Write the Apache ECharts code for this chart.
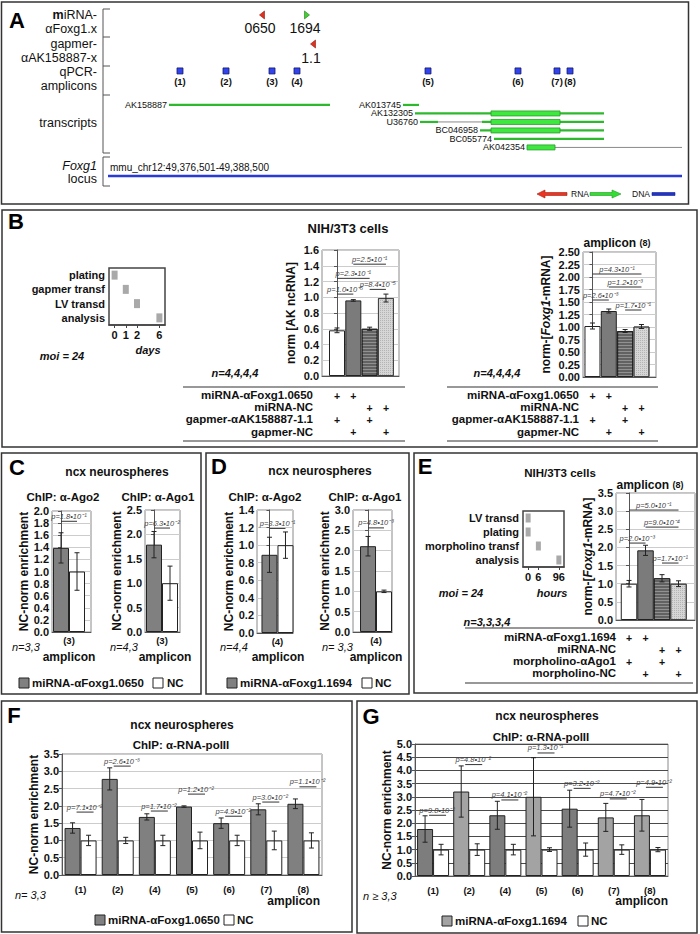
<!DOCTYPE html>
<html>
<head>
<meta charset="utf-8">
<title>Foxg1 figure</title>
<script src="https://cdn.jsdelivr.net/npm/echarts@6.0.0/dist/echarts.min.js"></script>
<style>
html,body{margin:0;padding:0;background:#ffffff;}
#chart{width:700px;height:934px;}
</style>
</head>
<body>
<div id="chart"></div>
<script>
// ======================= DATA =======================
// Panel A: genomic map (positions in bp from locus start)
const locusLabel = 'mmu_chr12:49,376,501-49,388,500';
const locusLength = 12000;
const mirnaNames = ['0650', '1694'];
const mirnaPos = [3219, 4160];
const mirnaStrand = [-1, 1];
const gapmerNames = ['1.1'];
const gapmerPos = [4286];
const gapmerStrand = [-1];
const ampliconNames = ['(1)', '(2)', '(3)', '(4)', '(5)', '(6)', '(7)', '(8)'];
const ampliconPos = [1505, 2467, 3429, 3951, 6690, 8571, 9387, 9659];
const txNames = ['AK158887', 'AK013745', 'AK132305', 'U36760', 'BC046958', 'BC055774', 'AK042354'];
const txRow = [0, 0, 1, 2, 3, 4, 5];
const txStart = [1275, 6167, 6418, 6523, 7777, 8070, 8760];
const txEnd = [4641, 6502, 10369, 10369, 10369, 10369, 12000];
const txExonStart = [null, null, 8007, 8007, 8007, null, 8760];
const txExonEnd = [null, null, 9450, 9450, 9450, null, 9345];
const txIntronStart = [null, null, null, 6899, null, null, 9345];
const txIntronEnd = [null, null, null, 7819, null, null, 12000];

// Panel B
const bTimelineSteps = ['plating', 'gapmer transf', 'LV transd', 'analysis'];
const bTimelineDay = ['0', '1', '2', '6'];
const bDayTicks = ['0', '1', '2', '', '6'];
const bRowLabels = ['miRNA-\u03b1Foxg1.0650', 'miRNA-NC', 'gapmer-\u03b1AK158887-1.1', 'gapmer-NC'];
const bPlus = [[1, 1, 0, 0], [0, 0, 1, 1], [1, 0, 1, 0], [0, 1, 0, 1]];
const bAkValues = [0.58, 0.96, 0.60, 0.99];
const bAkErr = [0.03, 0.01, 0.02, 0.05];
const bAkP = ['p=1.0\u202210\u207b\u2075', 'p=2.3\u202210\u207b\u00b9', 'p=2.5\u202210\u207b\u00b9', 'p=8.4\u202210\u207b\u2075'];
const bAkPFrom = [0, 0, 1, 2];
const bAkPTo = [1, 2, 3, 3];
const bAkPAt = [1.04, 1.24, 1.42, 1.10];
const bFoxValues = [1.02, 1.32, 0.92, 1.01];
const bFoxErr = [0.06, 0.04, 0.03, 0.04];
const bFoxP = ['p=4.3\u202210\u207b\u00b9', 'p=1.2\u202210\u207b\u00b3', 'p=2.6\u202210\u207b\u00b3', 'p=1.7\u202210\u207b\u00b9'];
const bFoxPFrom = [0, 1, 0, 2];
const bFoxPTo = [3, 3, 1, 3];
const bFoxPAt = [2.06, 1.80, 1.54, 1.34];

// Panel C
const cAmplicon = ['(3)'];
const cN = ['n=3,3', 'n=4,3'];
const cAgo2Values = [1.39, 1.00];
const cAgo2Err = [0.25, 0.31];
const cAgo2P = ['p=1.8\u202210\u207b\u00b9'];
const cAgo2PAt = [1.83];
const cAgo1Values = [1.79, 1.00];
const cAgo1Err = [0.27, 0.35];
const cAgo1P = ['p=6.3\u202210\u207b\u00b2'];
const cAgo1PAt = [2.13];

// Panel D
const dAmplicon = ['(4)'];
const dN = ['n=4,4', 'n= 3,3'];
const dAgo2Values = [0.89, 1.00];
const dAgo2Err = [0.20, 0.15];
const dAgo2P = ['p=3.3\u202210\u207b\u00b9'];
const dAgo2PAt = [1.19];
const dAgo1Values = [2.11, 1.00];
const dAgo1Err = [0.24, 0.03];
const dAgo1P = ['p=4.8\u202210\u207b\u00b3'];
const dAgo1PAt = [2.56];

// Panel E
const eTimelineSteps = ['LV transd', 'plating', 'morpholino transf', 'analysis'];
const eTimelineHour = ['0', '0', '6', '96'];
const eHourTicks = ['0', '6', '', '96'];
const eRowLabels = ['miRNA-\u03b1Foxg1.1694', 'miRNA-NC', 'morpholino-\u03b1Ago1', 'morpholino-NC'];
const ePlus = [[1, 1, 0, 0], [0, 0, 1, 1], [1, 0, 1, 0], [0, 1, 0, 1]];
const eValues = [1.00, 1.92, 1.15, 1.00];
const eErr = [0.09, 0.14, 0.10, 0.08];
const eP = ['p=5.0\u202210\u207b\u00b9', 'p=9.0\u202210\u207b\u2074', 'p=2.0\u202210\u207b\u00b3', 'p=1.7\u202210\u207b\u00b9'];
const ePFrom = [0, 1, 0, 2];
const ePTo = [3, 3, 1, 3];
const ePAt = [3.03, 2.56, 2.12, 1.57];

// Panel F
const fAmplicons = ['(1)', '(2)', '(4)', '(5)', '(6)', '(7)', '(8)'];
const fMirValues = [1.36, 2.78, 1.68, 1.98, 1.50, 1.90, 2.06];
const fMirErr = [0.15, 0.32, 0.09, 0.02, 0.15, 0.16, 0.14];
const fNcValues = [1.00, 1.00, 1.00, 1.00, 1.00, 1.00, 1.00];
const fNcErr = [0.15, 0.09, 0.15, 0.24, 0.15, 0.27, 0.22];
const fP = ['p=7.1\u202210\u207b\u00b2', 'p=2.6\u202210\u207b\u00b3', 'p=1.7\u202210\u207b\u00b2', 'p=1.2\u202210\u207b\u00b2', 'p=4.9\u202210\u207b\u00b2', 'p=3.0\u202210\u207b\u00b2', 'p=1.1\u202210\u207b\u00b2'];
const fPAt = [1.82, 3.15, 1.85, 2.34, 1.70, 2.11, 2.55];

// Panel G
const gAmplicons = ['(1)', '(2)', '(4)', '(5)', '(6)', '(7)', '(8)'];
const gMirValues = [1.78, 3.20, 2.30, 3.00, 2.55, 2.22, 2.30];
const gMirErr = [0.50, 0.97, 0.53, 1.48, 0.70, 0.53, 0.60];
const gNcValues = [1.00, 1.00, 1.00, 1.00, 1.00, 1.00, 1.00];
const gNcErr = [0.20, 0.22, 0.20, 0.07, 0.25, 0.18, 0.08];
const gP = ['p=9.8\u202210\u207b\u00b2', 'p=4.8\u202210\u207b\u00b2', 'p=4.1\u202210\u207b\u00b2', 'p=1.3\u202210\u207b\u00b9', 'p=3.2\u202210\u207b\u00b2', 'p=4.7\u202210\u207b\u00b2', 'p=4.9\u202210\u207b\u00b2'];
const gPAt = [2.30, 4.22, 2.88, 4.66, 3.32, 2.92, 3.36];

// ======================= STYLE =======================
const FF = '"Liberation Sans", Arial, Helvetica, sans-serif';
const fB = s => 'bold ' + s + 'px ' + FF;
const fR = s => s + 'px ' + FF;
const fI = s => 'italic ' + s + 'px ' + FF;
const fBI = s => 'italic bold ' + s + 'px ' + FF;
const P_FONT = fI(7.5);
const TRACK = {mirna: -10.59, gapmer: -7.17, amplicon: -4.0, locus: 8.36};
const condStyles = [
  {color: '#ffffff', borderColor: '#222', borderWidth: 1},
  {color: '#7b7b7b', borderColor: '#222', borderWidth: 1},
  {color: '#626262', borderColor: '#222', borderWidth: 1,
   decal: {symbol: 'rect', symbolSize: 1, dashArrayX: [10, 0], dashArrayY: [1, 2], rotation: 0, color: 'rgba(255,255,255,0.30)'}},
  {color: '#d6d6d6', borderColor: '#444', borderWidth: 1,
   decal: {symbol: 'rect', symbolSize: 1, dashArrayX: [1, 1], dashArrayY: [1, 1], rotation: 0, color: 'rgba(140,140,140,0.45)'}}
];
const pairStyles = [
  {color: '#808080', borderColor: '#222', borderWidth: 1},
  {color: '#ffffff', borderColor: '#222', borderWidth: 1}
];
const gShades = ['#7d7d7d', '#a3a3a3', '#7d7d7d', '#a3a3a3', '#7d7d7d', '#a3a3a3', '#a3a3a3'];

// ======================= HELPERS =======================
function tx(x, y, text, font, align, va, fill, rich) {
  const st = {text: text, x: x, y: y, font: font, fill: fill || '#111',
    textAlign: align || 'center', align: align || 'center',
    textVerticalAlign: va || 'middle', verticalAlign: va || 'middle'};
  if (rich) st.rich = rich;
  return {type: 'text', style: st};
}
function ln(x1, y1, x2, y2, stroke, lw) {
  return {type: 'line', shape: {x1: x1, y1: y1, x2: x2, y2: y2}, style: {stroke: stroke || '#222', lineWidth: lw || 1}};
}
function rc(x, y, w, h, fill, stroke, lw) {
  return {type: 'rect', shape: {x: x, y: y, width: w, height: h}, style: {fill: fill || 'none', stroke: stroke || 'none', lineWidth: lw || 1}};
}

const grids = [], xAxes = [], yAxes = [], series = [], G = [];
function g(el) { el.silent = true; G.push(el); }

function valueY(gi, max, step, dec, name, nameGap, splitColor, rich) {
  return {type: 'value', gridIndex: gi, min: 0, max: max, interval: step,
    axisLine: {show: true, lineStyle: {color: '#555'}},
    axisTick: {show: true, length: 3, lineStyle: {color: '#555'}},
    axisLabel: {formatter: v => v.toFixed(dec), fontFamily: FF, fontWeight: 'bold', fontSize: 11, color: '#111', margin: 3},
    splitLine: {show: true, lineStyle: {color: splitColor || '#cccccc', width: 1}},
    name: name, nameLocation: 'middle', nameGap: nameGap, nameRotate: 90,
    nameTextStyle: {fontFamily: FF, fontWeight: 'bold', fontSize: 12, color: '#111', rich: rich}};
}
function addBarGrid(c) {
  const i = grids.length;
  grids.push({left: c.left, top: c.top, width: c.width, height: c.height, show: true,
    borderColor: '#8a8a8a', borderWidth: 1, backgroundColor: '#ffffff'});
  if (c.cats) {
    xAxes.push({type: 'category', gridIndex: i, data: c.cats,
      axisLine: {show: true, lineStyle: {color: '#555'}}, axisTick: {show: false},
      axisLabel: {interval: 0, fontFamily: FF, fontWeight: 'bold', fontSize: 9.5, color: '#111', margin: 9},
      splitLine: {show: false}});
  } else {
    xAxes.push({type: 'value', gridIndex: i, min: c.xmin, max: c.xmax,
      axisLine: {show: true, onZero: false, lineStyle: {color: '#555'}}, axisTick: {show: false},
      axisLabel: {show: false}, splitLine: {show: false}});
  }
  yAxes.push(valueY(i, c.ymax, c.ystep, c.dec, c.name, c.nameGap, c.splitColor, c.rich));
  return i;
}
function barsByIndex(ai, vals, styles, barW) {
  series.push({type: 'bar', xAxisIndex: ai, yAxisIndex: ai, barWidth: barW, silent: true, z: 2,
    data: vals.map((v, i) => ({value: [i, v], itemStyle: styles[i]}))});
}
function errSeries(ai, xs, vals, errs, dx) {
  series.push({type: 'custom', xAxisIndex: ai, yAxisIndex: ai, silent: true, clip: false, z: 5,
    data: vals.map((v, i) => [xs[i], v, errs[i]]),
    renderItem: function (params, api) {
      const x = api.value(0), v = api.value(1), e = api.value(2);
      const t = api.coord([x, v + e]), b = api.coord([x, v - e]);
      const cx = t[0] + (dx || 0), w = 2.5;
      return {type: 'group', children: [
        ln(cx, t[1], cx, b[1], '#222', 1), ln(cx - w, t[1], cx + w, t[1], '#222', 1), ln(cx - w, b[1], cx + w, b[1], '#222', 1)]};
    }});
}
function pSeries(ai, from, to, at, texts) {
  series.push({type: 'custom', xAxisIndex: ai, yAxisIndex: ai, silent: true, clip: false, z: 6,
    data: at.map((y, i) => [from[i], y, to[i]]),
    renderItem: function (params, api) {
      const y = api.value(1);
      const a = api.coord([api.value(0), y]), b = api.coord([api.value(2), y]);
      return {type: 'group', children: [
        ln(a[0], a[1], b[0], b[1], '#333', 1),
        tx((a[0] + b[0]) / 2, a[1] - 1, texts[params.dataIndex], P_FONT, 'center', 'bottom', '#444')]};
    }});
}
function pSeriesCat(ai, cats, at, texts) {
  series.push({type: 'custom', xAxisIndex: ai, yAxisIndex: ai, silent: true, clip: false, z: 6,
    data: at.map((y, i) => [cats[i], y]),
    renderItem: function (params, api) {
      const c = api.coord([api.value(0), api.value(1)]);
      return {type: 'group', children: [
        ln(c[0] - 4, c[1], c[0] + 13, c[1], '#333', 1),
        tx(c[0] + 4, c[1] - 1, texts[params.dataIndex], P_FONT, 'center', 'bottom', '#444')]};
    }});
}
function xLabelSeries(ai, pos, label) {
  series.push({type: 'custom', xAxisIndex: ai, yAxisIndex: ai, silent: true, clip: false, z: 6,
    data: [[pos, 0]],
    renderItem: function (params, api) {
      const c = api.coord([api.value(0), 0]);
      return tx(c[0], c[1] + 8, label, fB(9.5), 'center', 'middle');
    }});
}
function tableSeries(ai, xMin, labels, plus, labelGap, top, rowH) {
  series.push({type: 'custom', xAxisIndex: ai, yAxisIndex: ai, silent: true, clip: false, z: 8,
    data: labels.map(() => [0, 0]),
    renderItem: function (params, api) {
      const r = params.dataIndex;
      const base = api.coord([xMin, 0]);
      const y = base[1] + top + r * rowH;
      const ch = [tx(base[0] - labelGap, y, labels[r], fB(11.5), 'right', 'middle')];
      plus[r].forEach(function (p, c) {
        if (p) { const cx = api.coord([c, 0])[0]; ch.push(tx(cx, y + 0.5, '+', fB(10.5), 'center', 'middle')); }
      });
      return {type: 'group', children: ch};
    }});
}
function timeline(c) {
  const i = grids.length;
  grids.push({left: c.left, top: c.top, width: c.width, height: c.height, show: true,
    borderColor: '#444', borderWidth: 1.5, backgroundColor: '#fff'});
  xAxes.push({type: 'category', gridIndex: i, data: c.ticks, boundaryGap: true,
    axisLine: {show: true, lineStyle: {color: '#444', width: 1.5}},
    axisTick: {show: true, alignWithLabel: true, interval: function (idx, v) { return v !== ''; }, length: 3, lineStyle: {color: '#444'}},
    axisLabel: {interval: 0, fontFamily: FF, fontWeight: 'bold', fontSize: 11, color: '#111', margin: 4},
    splitLine: {show: false}});
  yAxes.push({type: 'category', gridIndex: i, data: c.steps, inverse: true,
    axisLine: {show: false}, axisTick: {show: false},
    axisLabel: {interval: 0, fontFamily: FF, fontWeight: 'bold', fontSize: 11, color: '#111', margin: 4},
    splitLine: {show: false}});
  series.push({type: 'custom', xAxisIndex: i, yAxisIndex: i, silent: true, clip: false, z: 5,
    data: c.when.map((w, k) => [w, c.steps[k]]),
    renderItem: function (params, api) {
      const p = api.coord([api.value(0), api.value(1)]);
      return rc(p[0] - c.rw / 2, p[1] - 4.5, c.rw, 9, '#a9a9a9', 'none');
    }});
}

// ======================= PANEL A =======================
grids.push({left: 108, top: 5, width: 574, height: 180});
xAxes.push({type: 'value', gridIndex: 0, min: 0, max: locusLength, show: false});
yAxes.push({type: 'value', gridIndex: 0, min: -11.76, max: 9.42, inverse: true, show: false});
function triangle(x, y, dir) {
  const pts = dir < 0 ? [[x - 2.5, y], [x + 2.5, y - 4], [x + 2.5, y + 4]] : [[x + 2.5, y], [x - 2.5, y - 4], [x - 2.5, y + 4]];
  return {type: 'polygon', shape: {points: pts}, style: dir < 0 ? {fill: '#e0301e', stroke: '#8a1a10', lineWidth: 0.6} : {fill: '#44cc33', stroke: '#227a1a', lineWidth: 0.6}};
}
series.push({type: 'custom', xAxisIndex: 0, yAxisIndex: 0, silent: true, clip: false,
  data: [[0, TRACK.locus, locusLength]],
  renderItem: function (params, api) {
    const a = api.coord([0, TRACK.locus]), b = api.coord([api.value(2), TRACK.locus]);
    return {type: 'group', children: [rc(a[0], a[1] - 1.3, b[0] - a[0], 2.6, '#2a3ad8', 'none'),
      tx(a[0] + 2, a[1] - 8, locusLabel, fR(10), 'left', 'middle')]};
  }});
function markerSeries(pos, names, strands, track) {
  series.push({type: 'custom', xAxisIndex: 0, yAxisIndex: 0, silent: true, clip: false,
    data: pos.map(p => [p, track]),
    renderItem: function (params, api) {
      const c = api.coord([api.value(0), api.value(1)]);
      const i = params.dataIndex;
      return {type: 'group', children: [triangle(c[0], c[1], strands[i]), tx(c[0] - 2, c[1] + 13.5, names[i], fR(14), 'center', 'middle')]};
    }});
}
markerSeries(mirnaPos, mirnaNames, mirnaStrand, TRACK.mirna);
markerSeries(gapmerPos, gapmerNames, gapmerStrand, TRACK.gapmer);
series.push({type: 'custom', xAxisIndex: 0, yAxisIndex: 0, silent: true, clip: false,
  data: ampliconPos.map(p => [p, TRACK.amplicon]),
  renderItem: function (params, api) {
    const c = api.coord([api.value(0), api.value(1)]);
    return {type: 'group', children: [rc(c[0] - 3, c[1] - 3, 6, 6, '#3344ee', '#111a66', 0.8),
      tx(c[0], c[1] + 11, ampliconNames[params.dataIndex], fB(9.5), 'center', 'middle')]};
  }});
series.push({type: 'custom', xAxisIndex: 0, yAxisIndex: 0, silent: true, clip: false,
  data: txStart.map((s, i) => [s, txRow[i]]),
  renderItem: function (params, api) {
    const i = params.dataIndex, row = txRow[i];
    const X = v => api.coord([v, row])[0];
    const y = api.coord([txStart[i], row])[1];
    const s = txStart[i], e = txEnd[i];
    const segs = [];
    if (txIntronStart[i] != null) {
      segs.push([s, txIntronStart[i]]);
      if (txIntronEnd[i] < e) segs.push([txIntronEnd[i], e]);
    } else segs.push([s, e]);
    const ch = [];
    segs.forEach(function (sg) { if (sg[1] > sg[0]) ch.push(rc(X(sg[0]), y - 1.1, X(sg[1]) - X(sg[0]), 2.2, '#2db82d', 'none')); });
    if (txIntronStart[i] != null) ch.push(ln(X(txIntronStart[i]), y, X(txIntronEnd[i]), y, '#8a8a8a', 1));
    if (txExonStart[i] != null) ch.push(rc(X(txExonStart[i]), y - 2.5, X(txExonEnd[i]) - X(txExonStart[i]), 5, '#3ee83e', '#2a9a2a', 0.8));
    ch.push(tx(X(s) - 2, y, txNames[i], fR(9), 'right', 'middle'));
    return {type: 'group', children: ch};
  }});

// ======================= PANEL B =======================
timeline({left: 109, top: 268, width: 56, height: 57, ticks: bDayTicks, steps: bTimelineSteps, when: bTimelineDay, rw: 6});
const gB1 = addBarGrid({left: 322, top: 250, width: 77, height: 126, xmin: -0.92, xmax: 3.80, ymax: 1.6, ystep: 0.2, dec: 1,
  name: 'norm [AK ncRNA]', nameGap: 25});
barsByIndex(gB1, bAkValues, condStyles, 16);
errSeries(gB1, [0, 1, 2, 3], bAkValues, bAkErr, 0);
pSeries(gB1, bAkPFrom, bAkPTo, bAkPAt, bAkP);
tableSeries(gB1, -0.92, bRowLabels, bPlus, 9, 19, 12.2);

const richFox = {
  a: {fontFamily: FF, fontWeight: 'bold', fontStyle: 'normal', fontSize: 12, color: '#111'},
  i: {fontFamily: FF, fontWeight: 'bold', fontStyle: 'italic', fontSize: 12, color: '#111'}
};
const gB2 = addBarGrid({left: 583, top: 252, width: 73, height: 125, xmin: -0.58, xmax: 3.89, ymax: 2.5, ystep: 0.25, dec: 2,
  name: '{a|norm-[}{i|Foxg1}{a|-mRNA]}', nameGap: 31, rich: richFox});
barsByIndex(gB2, bFoxValues, condStyles, 16);
errSeries(gB2, [0, 1, 2, 3], bFoxValues, bFoxErr, 0);
pSeries(gB2, bFoxPFrom, bFoxPTo, bFoxPAt, bFoxP);
tableSeries(gB2, -0.58, bRowLabels, bPlus, 4, 18, 12.2);

// ======================= PANEL C / D =======================
function pairChart(c, vals, errs, ptxt, pat, amp) {
  const i = addBarGrid(c);
  barsByIndex(i, vals, pairStyles, 16);
  errSeries(i, [0, 1], vals, errs, 0);
  pSeries(i, [0], [1], pat, ptxt);
  xLabelSeries(i, 0.5, amp);
  return i;
}
pairChart({left: 52, top: 511, width: 39, height: 121, xmin: -0.5625, xmax: 1.875, ymax: 2.0, ystep: 0.2, dec: 1, name: 'NC-norm enrichment', nameGap: 22},
  cAgo2Values, cAgo2Err, cAgo2P, cAgo2PAt, cAmplicon[0]);
pairChart({left: 145, top: 510, width: 35, height: 122, xmin: -0.5625, xmax: 1.625, ymax: 2.5, ystep: 0.5, dec: 1, name: 'NC-norm enrichment', nameGap: 22},
  cAgo1Values, cAgo1Err, cAgo1P, cAgo1PAt, cAmplicon[0]);
pairChart({left: 257, top: 510, width: 36, height: 123, xmin: -0.78, xmax: 1.47, ymax: 1.4, ystep: 0.2, dec: 1, name: 'NC-norm enrichment', nameGap: 22},
  dAgo2Values, dAgo2Err, dAgo2P, dAgo2PAt, dAmplicon[0]);
pairChart({left: 353, top: 510, width: 39, height: 122, xmin: -0.94, xmax: 1.50, ymax: 3.0, ystep: 0.5, dec: 1, name: 'NC-norm enrichment', nameGap: 22},
  dAgo1Values, dAgo1Err, dAgo1P, dAgo1PAt, dAmplicon[0]);

// ======================= PANEL E =======================
timeline({left: 523, top: 511, width: 41, height: 56, ticks: eHourTicks, steps: eTimelineSteps, when: eTimelineHour, rw: 5});
const gE = addBarGrid({left: 616, top: 493, width: 79, height: 127, xmin: -0.79, xmax: 4.0, ymax: 3.5, ystep: 0.5, dec: 1,
  name: '{a|norm-[}{i|Foxg1}{a|-mRNA]}', nameGap: 22, rich: richFox});
barsByIndex(gE, eValues, condStyles, 16.5);
errSeries(gE, [0, 1, 2, 3], eValues, eErr, 0);
pSeries(gE, ePFrom, ePTo, ePAt, eP);
tableSeries(gE, -0.79, eRowLabels, ePlus, 0, 17, 12);

// ======================= PANEL F / G =======================
function groupChart(c, cats, mir, mirErr, nc, ncErr, ptxt, pat, shades) {
  const i = addBarGrid(c);
  series.push({type: 'bar', xAxisIndex: i, yAxisIndex: i, barWidth: 16, barGap: '0%', silent: true, z: 2,
    data: mir.map((v, k) => ({value: v, itemStyle: {color: shades ? shades[k] : pairStyles[0].color, borderColor: '#222', borderWidth: 1}}))});
  series.push({type: 'bar', xAxisIndex: i, yAxisIndex: i, barWidth: 16, barGap: '0%', silent: true, z: 2,
    data: nc, itemStyle: pairStyles[1]});
  errSeries(i, cats, mir, mirErr, -8);
  errSeries(i, cats, nc, ncErr, 8);
  pSeriesCat(i, cats, pat, ptxt);
  return i;
}
groupChart({left: 62, top: 754, width: 260, height: 121, cats: fAmplicons, ymax: 3.5, ystep: 0.5, dec: 1, name: 'NC-norm enrichment', nameGap: 22},
  fAmplicons, fMirValues, fMirErr, fNcValues, fNcErr, fP, fPAt, null);
groupChart({left: 415, top: 744, width: 253, height: 132, cats: gAmplicons, ymax: 5.0, ystep: 0.5, dec: 1, name: 'NC-norm enrichment', nameGap: 22, splitColor: '#4a4a4a'},
  gAmplicons, gMirValues, gMirErr, gNcValues, gNcErr, gP, gPAt, gShades);

// ======================= STATIC TEXT / FRAMES =======================
[[1.5, 2, 687, 202], [2, 210, 695, 237], [1.5, 453, 199.5, 241], [206, 453, 203, 241], [414, 453, 283, 240], [1.5, 701, 350.5, 231], [357, 701, 340, 232]]
  .forEach(r => g(rc(r[0], r[1], r[2], r[3], 'none', '#333', 1.5)));
[['A', 17, 20], ['B', 16, 221], ['C', 17, 467], ['D', 219, 466], ['E', 425, 466], ['F', 14, 715], ['G', 371, 716]]
  .forEach(l => g(tx(l[1], l[2], l[0], fB(22), 'center', 'middle', '#000')));

// Panel A labels
const richA = {
  b: {fontFamily: FF, fontWeight: 'bold', fontStyle: 'normal', fontSize: 12.5, color: '#111'},
  n: {fontFamily: FF, fontWeight: 'normal', fontStyle: 'normal', fontSize: 12.5, color: '#111'},
  i: {fontFamily: FF, fontWeight: 'normal', fontStyle: 'italic', fontSize: 12.5, color: '#111'}
};
g(tx(97, 14.5, '{b|m}{n|iRNA-}', fR(12.5), 'right', 'middle', '#111', richA));
g(tx(97, 29, '\u03b1Foxg1.x', fR(12.5), 'right'));
g(tx(97, 44, 'gapmer-', fR(12.5), 'right'));
g(tx(97, 58, '\u03b1AK158887-x', fR(12.5), 'right'));
g(tx(97, 72, 'qPCR-', fR(12.5), 'right'));
g(tx(97, 86, 'amplicons', fR(12.5), 'right'));
g(tx(97, 123, 'transcripts', fR(12.5), 'right'));
g(tx(97, 166, '{i|Foxg1}', fR(12.5), 'right', 'middle', '#111', richA));
g(tx(97, 179, 'locus', fR(12.5), 'right'));
g(ln(103, 9, 103, 153, '#555', 1));
[9, 37, 66, 95, 153].forEach(y => g(ln(103, y, 110, y, '#555', 1)));
g(ln(103, 157, 103, 186, '#555', 1));
[157, 186].forEach(y => g(ln(103, y, 110, y, '#555', 1)));
g({type: 'polygon', shape: {points: [[537, 194], [545, 190], [545, 192.5], [567, 192.5], [567, 195.5], [545, 195.5], [545, 198]]}, style: {fill: '#ee3322', stroke: '#992211', lineWidth: 0.6}});
g(tx(580, 194, 'RNA', fR(8.5)));
g({type: 'polygon', shape: {points: [[590, 192.5], [612, 192.5], [612, 190], [621, 194], [612, 198], [612, 195.5], [590, 195.5]]}, style: {fill: '#33dd33', stroke: '#229922', lineWidth: 0.6}});
g(tx(641, 194, 'DNA', fR(8.5)));
g(rc(652, 192.5, 23, 3, '#2233cc', '#112288', 0.6));

// Panel B texts
const richAmp = {
  a: {fontFamily: FF, fontWeight: 'bold', fontStyle: 'normal', fontSize: 12, color: '#111'},
  s: {fontFamily: FF, fontWeight: 'bold', fontStyle: 'normal', fontSize: 9, color: '#111'}
};
g(tx(348, 228, 'NIH/3T3 cells', fB(13)));
g(tx(62, 356, 'moi = 24', fBI(11)));
g(tx(148, 350, 'days', fBI(11)));
g(tx(235, 373, 'n=4,4,4,4', fBI(11)));
g(tx(497, 373, 'n=4,4,4,4', fBI(11)));
g(tx(617, 243, '{a|amplicon }{s|(8)}', fB(12), 'center', 'middle', '#111', richAmp));
g(ln(183, 387, 405, 387, '#333', 1.2)); g(ln(183, 441, 405, 441, '#333', 1.2));
g(ln(447, 387, 658, 387, '#333', 1.2)); g(ln(447, 441, 658, 441, '#333', 1.2));

// Panel C texts
g(tx(117, 472, 'ncx neurospheres', fB(12)));
g(tx(63, 497, 'ChIP: \u03b1-Ago2', fB(11.5)));
g(tx(158, 497, 'ChIP: \u03b1-Ago1', fB(11.5)));
g(tx(12, 647, cN[0], fI(11), 'left'));
g(tx(69, 657, 'amplicon', fB(12)));
g(tx(110, 647, cN[1], fI(11), 'left'));
g(tx(165, 657, 'amplicon', fB(12)));
g(rc(19, 678, 10, 10, '#808080', '#222', 1)); g(tx(32, 683, 'miRNA-\u03b1Foxg1.0650', fB(11.5), 'left'));
g(rc(153, 678, 10, 10, '#ffffff', '#222', 1)); g(tx(167, 683, 'NC', fB(11.5), 'left'));

// Panel D texts
g(tx(320, 471, 'ncx neurospheres', fB(12)));
g(tx(265, 497, 'ChIP: \u03b1-Ago2', fB(11.5)));
g(tx(365, 497, 'ChIP: \u03b1-Ago1', fB(11.5)));
g(tx(220, 647, dN[0], fI(11), 'left'));
g(tx(278, 657, 'amplicon', fB(12)));
g(tx(322, 647, dN[1], fI(11), 'left'));
g(tx(376, 657, 'amplicon', fB(12)));
g(rc(227, 678, 10, 10, '#808080', '#222', 1)); g(tx(240, 683, 'miRNA-\u03b1Foxg1.1694', fB(11.5), 'left'));
g(rc(362, 678, 10, 10, '#ffffff', '#222', 1)); g(tx(375, 683, 'NC', fB(11.5), 'left'));

// Panel E texts
g(tx(560, 473, 'NIH/3T3 cells', fB(11.5)));
g(tx(650, 485, '{a|amplicon }{s|(8)}', fB(12), 'center', 'middle', '#111', richAmp));
g(tx(461, 593, 'moi = 24', fBI(11)));
g(tx(552, 593, 'hours', fBI(11)));
g(tx(487, 622, 'n=3,3,3,4', fBI(11)));
g(ln(465, 628, 693, 628, '#333', 1.2)); g(ln(465, 683, 693, 683, '#333', 1.2));

// Panel F texts
g(tx(182, 725, 'ncx neurospheres', fB(12)));
g(tx(181, 745, 'ChIP: \u03b1-RNA-polII', fB(11.5)));
g(tx(15, 895, 'n= 3,3', fI(11), 'left'));
g(tx(320, 901, 'amplicon', fB(12), 'right'));
g(rc(95, 915, 10, 10, '#808080', '#222', 1)); g(tx(108, 920, 'miRNA-\u03b1Foxg1.0650', fB(11.5), 'left'));
g(rc(224, 915, 10, 10, '#ffffff', '#222', 1)); g(tx(237, 920, 'NC', fB(11.5), 'left'));

// Panel G texts
g(tx(547, 716, 'ncx neurospheres', fB(12)));
g(tx(541, 737, 'ChIP: \u03b1-RNA-polII', fB(11.5)));
g(tx(363, 896, 'n \u2265 3,3', fI(11), 'left'));
g(tx(668, 901, 'amplicon', fB(12), 'right'));
g(rc(442, 916, 10, 10, '#a3a3a3', '#222', 1)); g(tx(455, 921, 'miRNA-\u03b1Foxg1.1694', fB(11.5), 'left'));
g(rc(578, 916, 10, 10, '#ffffff', '#222', 1)); g(tx(591, 921, 'NC', fB(11.5), 'left'));

// ======================= RENDER =======================
const chart = echarts.init(document.getElementById('chart'), null, {renderer: 'svg', width: 700, height: 934});
chart.setOption({
  animation: false,
  backgroundColor: '#ffffff',
  textStyle: {fontFamily: FF},
  grid: grids,
  xAxis: xAxes,
  yAxis: yAxes,
  series: series,
  graphic: {elements: G}
});
</script>
</body>
</html>
